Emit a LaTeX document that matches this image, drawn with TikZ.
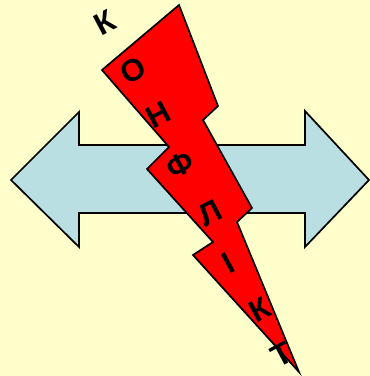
\documentclass[tikz,border=0pt]{standalone}
\usepackage{fontspec}
\setmainfont{Liberation Sans}
\definecolor{bgyellow}{RGB}{255,255,204}
\definecolor{arrowblue}{RGB}{185,223,227}
\begin{document}
\begin{tikzpicture}[x=1pt, y=-1pt,
    letter/.style={font=\bfseries\fontsize{31}{31}\selectfont, rotate=28, inner sep=0pt},
    outline/.style={draw=black, line width=1.7pt, line join=miter}]
    \fill[bgyellow] (0,0) rectangle (370,376);
    \useasboundingbox (0,0) rectangle (370,376);

    % double arrow
    \draw[outline, fill=arrowblue] (11,180) -- (79,112) -- (79,145) -- (305,145) -- (305,111)
        -- (369,180) -- (305,247) -- (305,213) -- (79,213) -- (79,247) -- cycle;

    % lightning
    \draw[outline, fill=red] (179,5) -- (218,106) -- (203,120) -- (252,208) -- (237,222)
        -- (299,372) -- (193,255) -- (213,242) -- (147,169) -- (169,147) -- (102,70) -- cycle;

    \node[letter] (k1) at (105,23) {К};
    \node[letter] (o) at (133,70) {О};
    \node[letter] (n) at (158,115) {Н};
    \node[letter] (f) at (180,165) {Ф};
    \node[letter] (l) at (210,213) {Л};
    \node[letter] (i) at (228,263) {І};
    \node[letter] (k2) at (260,310) {К};
    \node[letter] (t) at (282,355) {Т};
\end{tikzpicture}
\end{document}
